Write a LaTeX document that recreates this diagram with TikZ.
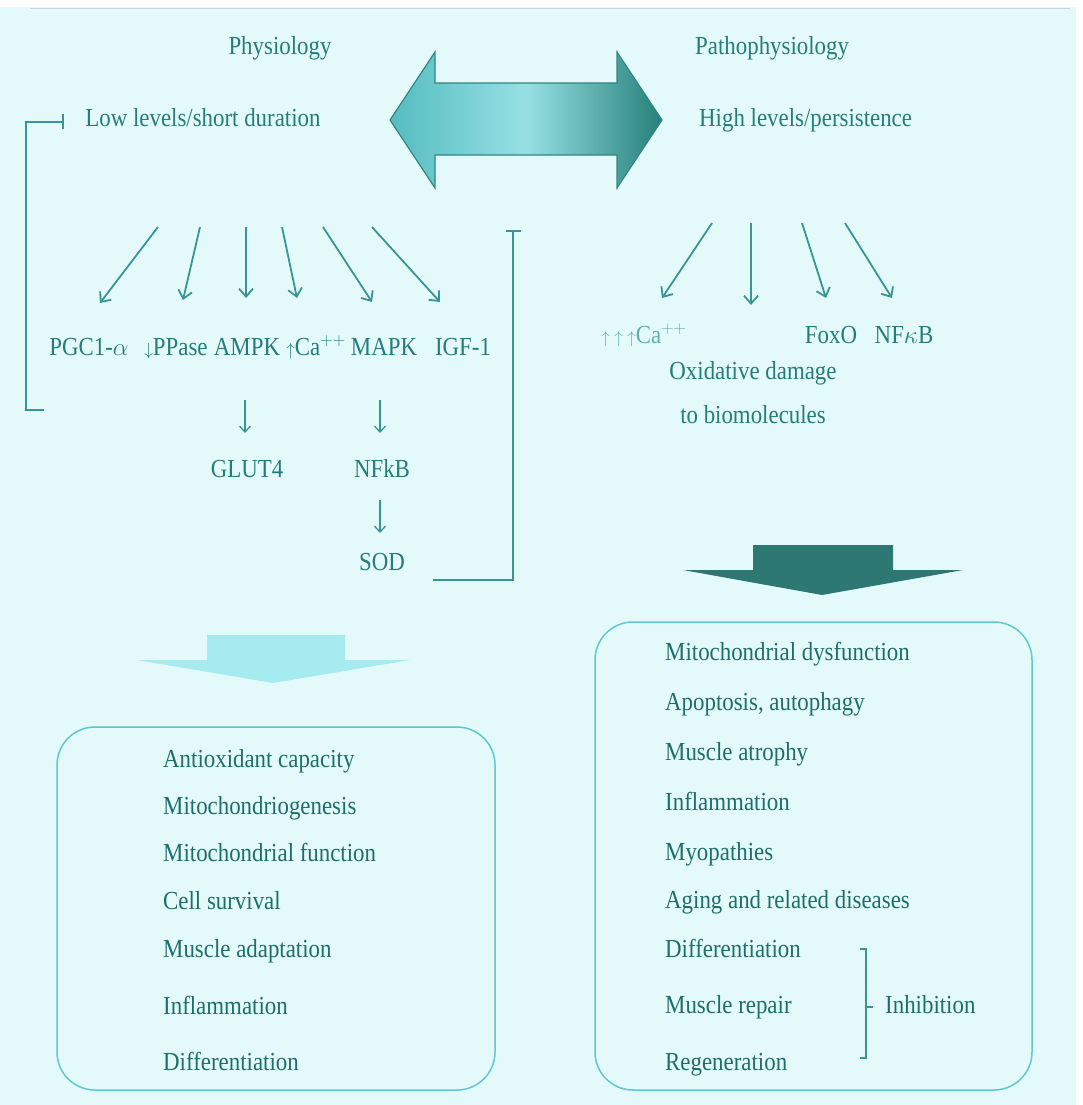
\documentclass[tikz,border=0pt]{standalone}
\usepackage{fontspec}
\setmainfont{Liberation Serif}[FakeStretch=0.88]
\usetikzlibrary{arrows.meta}
\definecolor{bgc}{RGB}{228,250,250}
\definecolor{tealtxt}{RGB}{35,125,122}
\definecolor{boxtxt}{RGB}{28,110,106}
\definecolor{fainttxt}{RGB}{95,175,172}
\definecolor{tealln}{RGB}{55,150,148}
\definecolor{boxln}{RGB}{95,200,205}
\definecolor{darkarr}{RGB}{45,120,115}
\definecolor{lightarr}{RGB}{165,235,240}
\definecolor{arrL}{RGB}{85,188,192}
\definecolor{arrM}{RGB}{150,224,227}
\definecolor{arrR}{RGB}{38,128,122}
\definecolor{arrEdge}{RGB}{50,135,130}
\newcommand{\smup}{{\fontsize{18}{18}\selectfont$\uparrow$}}
\newcommand{\smdown}{{\fontsize{18}{18}\selectfont$\downarrow$}}
\begin{document}
\begin{tikzpicture}[x=1pt,y=-1pt,
  lbl/.style={text=tealtxt, font=\fontsize{26}{30}\selectfont, inner sep=0pt, anchor=base},
  lbll/.style={lbl, anchor=base west},
  itm/.style={lbl, anchor=base west, text=boxtxt},
  fan/.style={draw=tealln, line width=1.8pt, -{Straight Barb[length=8pt,width=14pt]}},
  small/.style={draw=tealln, line width=1.3pt, -{Straight Barb[length=6pt,width=11pt]}},
  inh/.style={draw=tealln, line width=2pt, -{Bar[width=15pt,line width=2pt]}},
  resbox/.style={draw=boxln, line width=1.5pt, rounded corners=38pt, rectangle, inner sep=0pt}
]
% background
\fill[bgc] (0,0) rectangle (1083,1105);
\fill[white] (0,0) rectangle (1083,7);
\fill[white] (1076,0) rectangle (1083,1105);
\draw[gray!35, line width=0.8pt] (30,8) -- (1070,8);

% headers
\node[lbl] (phys) at (280,55) {Physiology};
\node[lbl] (low) at (203,127) {Low levels/short duration};
\node[lbll] (patho) at (695,55) {Pathophysiology};
\node[lbll] (high) at (699,127) {High levels/persistence};

% double arrow
\path[draw=arrEdge, line width=1.2pt, left color=arrL, right color=arrR, middle color=arrM]
  (390,120) -- (435,52) -- (435,83) -- (617,83) -- (617,52) -- (662,120)
  -- (617,188) -- (617,155) -- (435,155) -- (435,188) -- cycle;

% left fan
\foreach \i/\sx/\ex/\ey in {1/158/100/303, 2/200/183/300, 3/246/246/298, 4/282/297/298, 5/323/372/302, 6/372/440/302}{
  \coordinate (ls\i) at (\sx,227);
  \coordinate (le\i) at (\ex,\ey);
  \draw[fan] (ls\i) -- (le\i);
}
\node[lbl] (pgc) at (89,355) {PGC1-$\alpha$};
\node[lbl] (ppase) at (176,355) {\smdown PPase};
\node[lbl] (ampk) at (247,355) {AMPK};
\node[lbl] (ca) at (316,355) {\smup Ca$^{++}$};
\node[lbl] (mapk) at (384,355) {MAPK};
\node[lbl] (igf) at (463,355) {IGF-1};
\node[lbl] (glut) at (247,477) {GLUT4};
\node[lbl] (nfkb) at (382,477) {NFkB};
\node[lbl] (sod) at (382,570) {SOD};
\coordinate (a1s) at (245,400); \coordinate (a1e) at (245,433);
\coordinate (a2s) at (380,400); \coordinate (a2e) at (380,433);
\coordinate (a3s) at (380,500); \coordinate (a3e) at (380,533);
\draw[small] (a1s) -- (a1e);
\draw[small] (a2s) -- (a2e);
\draw[small] (a3s) -- (a3e);

% feedback brackets
\coordinate (lb1) at (44,410); \coordinate (lb2) at (26,410);
\coordinate (lb3) at (26,122); \coordinate (lb4) at (64,122);
\draw[inh] (lb1) -- (lb2) -- (lb3) -- (lb4);
\coordinate (rb1) at (433,580); \coordinate (rb2) at (513,580);
\coordinate (rb3) at (513,230);
\draw[inh] (rb1) -- (rb2) -- (rb3);

% right fan
\foreach \i/\sx/\ex/\ey in {1/712/662/298, 2/751/751/305, 3/802/826/298, 4/845/892/298}{
  \coordinate (rs\i) at (\sx,223);
  \coordinate (re\i) at (\ex,\ey);
  \draw[fan] (rs\i) -- (re\i);
}
\node[lbl, text=fainttxt] (ca3) at (644,343) {\smup\,\smup\,\smup Ca$^{++}$};
\node[lbl] (foxo) at (831,343) {FoxO};
\node[lbl] (nfkb2) at (904,343) {NF$\kappa$B};
\node[lbl] (oxd) at (753,379) {Oxidative damage};
\node[lbl] (bio) at (753,423) {to biomolecules};

% big down arrows
\path[fill=lightarr] (207,635) -- (345,635) -- (345,660) -- (410,660) -- (273,683)
  -- (137,660) -- (207,660) -- cycle;
\path[fill=darkarr] (753,545) -- (893,545) -- (893,570) -- (963,570) -- (822,595)
  -- (683,570) -- (753,570) -- cycle;

% result boxes
\node[resbox, minimum width=438pt, minimum height=363pt] (lbox) at (276,908.5) {};
\node[resbox, minimum width=437pt, minimum height=468pt] (rbox) at (813.5,856) {};

\foreach \t/\y in {Antioxidant capacity/767, Mitochondriogenesis/814, Mitochondrial function/861,
  Cell survival/909, Muscle adaptation/957, Inflammation/1014, Differentiation/1070}{
  \node[itm] at (163,\y) {\t};
}
\foreach \t/\y in {Mitochondrial dysfunction/660, {Apoptosis, autophagy}/710, Muscle atrophy/760,
  Inflammation/810, Myopathies/860, Aging and related diseases/908, Differentiation/957,
  Muscle repair/1013, Regeneration/1070}{
  \node[itm] at (665,\y) {\t};
}
% inhibition brace
\coordinate (br1) at (860,949); \coordinate (br2) at (866,949);
\coordinate (br3) at (866,1058); \coordinate (br4) at (860,1058);
\coordinate (brm) at (866,1007); \coordinate (brt) at (873,1007);
\draw[tealln, line width=1.6pt] (br1) -- (br2) -- (br3) -- (br4);
\draw[tealln, line width=1.6pt] (brm) -- (brt);
\node[itm] (inhib) at (885,1013) {Inhibition};
\end{tikzpicture}
\end{document}
